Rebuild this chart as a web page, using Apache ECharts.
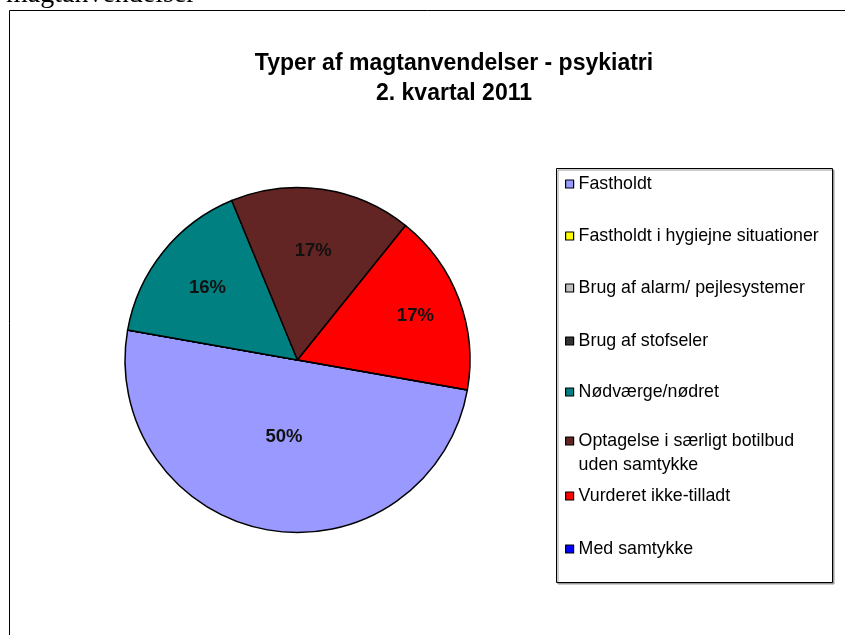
<!DOCTYPE html>
<html>
<head>
<meta charset="utf-8">
<script src="https://cdn.jsdelivr.net/npm/echarts@6/dist/echarts.min.js"></script>
<style>
  html, body { margin: 0; padding: 0; background: #fff; }
  #chart { width: 845px; height: 635px; }
</style>
</head>
<body>
<div id="chart"></div>
<script>
// data
const categories = [
  'Fastholdt',
  'Fastholdt i hygiejne situationer',
  'Brug af alarm/ pejlesystemer',
  'Brug af stofseler',
  'Nødværge/nødret',
  'Optagelse i særligt botilbud\nuden samtykke',
  'Vurderet ikke-tilladt',
  'Med samtykke'
];
const values = [50, 0, 0, 0, 16, 17, 17, 0];
const colors = ['#9999ff', '#ffff00', '#c0c0c0', '#333333', '#008080', '#632523', '#ff0000', '#0000ff'];

// layout
const cx = 297.5, cy = 360, R = 172.5;
const startAngle = 350;
const labelFactor = [0.45, 0, 0, 0, 0.67, 0.64, 0.73, 0];
const legendCenters = [184, 236, 288, 341, 392, 441, 496, 549];

const total = values.reduce((a, b) => a + b, 0);
function midAngle(i) {
  let before = 0;
  for (let k = 0; k < i; k++) before += values[k];
  return (startAngle - (before + values[i] / 2) / total * 360) * Math.PI / 180;
}

const legends = categories.map((name, i) => {
  const twoLine = name.indexOf('\n') >= 0;
  return {
    data: [name],
    orient: 'vertical',
    left: 565,
    top: twoLine ? legendCenters[i] - 36 : legendCenters[i] - 10,
    padding: 0,
    itemWidth: 8,
    itemHeight: 8,
    icon: 'rect',
    selectedMode: false,
    // blank first line keeps the icon level with the first text line
    formatter: twoLine ? n => ' \n' + n : '{name}',
    itemStyle: { borderColor: '#000', borderWidth: 1.2 },
    textStyle: {
      fontFamily: 'Liberation Sans, Arial',
      fontSize: 17.8,
      color: '#000',
      lineHeight: twoLine ? 24 : 20
    }
  };
});

const chart = echarts.init(document.getElementById('chart'));
chart.setOption({
  animation: false,
  backgroundColor: '#fff',
  title: {
    text: 'Typer af magtanvendelser - psykiatri\n2. kvartal 2011',
    left: 449,
    textAlign: 'center',
    top: 44,
    textStyle: {
      fontFamily: 'Liberation Sans, Arial',
      fontSize: 23,
      fontWeight: 'bold',
      color: '#000',
      lineHeight: 30
    }
  },
  legend: legends,
  graphic: [
    {
      type: 'text',
      left: 6,
      top: -19,
      style: {
        text: 'magtanvendelser',
        font: '28px "Liberation Serif", "Times New Roman", serif',
        fill: '#000'
      }
    },
    {
      type: 'rect',
      shape: { x: 9.5, y: 10.5, width: 900, height: 700 },
      style: { fill: 'none', stroke: '#000', lineWidth: 1 },
      silent: true
    },
    {
      type: 'rect',
      shape: { x: 556.5, y: 168.5, width: 276, height: 414 },
      style: {
        fill: '#fff', stroke: '#000', lineWidth: 1,
        shadowColor: '#999', shadowOffsetX: 1.5, shadowOffsetY: 1.5, shadowBlur: 0
      },
      z: -1,
      silent: true
    }
  ],
  series: [
    {
      type: 'pie',
      center: [cx, cy],
      radius: [0, R],
      startAngle: startAngle,
      clockwise: true,
      percentPrecision: 0,
      avoidLabelOverlap: false,
      emphasis: { disabled: true },
      itemStyle: { borderColor: '#000', borderWidth: 1.5 },
      label: {
        show: true,
        position: 'inside',
        formatter: p => (p.value > 0 ? p.percent + '%' : ''),
        fontFamily: 'Liberation Sans, Arial',
        fontSize: 18.5,
        fontWeight: 'bold',
        color: '#111'
      },
      labelLine: { show: false },
      labelLayout: function (params) {
        const i = params.dataIndex;
        const a = midAngle(i);
        const r = labelFactor[i] * R;
        const tx = cx + r * Math.cos(a);
        const ty = cy - r * Math.sin(a);
        const rect = params.labelRect;
        return {
          dx: tx - (rect.x + rect.width / 2),
          dy: ty - (rect.y + rect.height / 2)
        };
      },
      data: categories.map((name, i) => ({
        name: name,
        value: values[i],
        itemStyle: { color: colors[i] }
      }))
    }
  ]
});
</script>
</body>
</html>
